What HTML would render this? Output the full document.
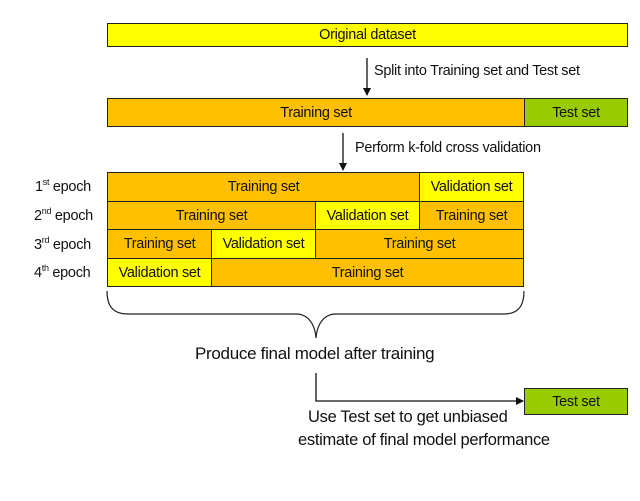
<!DOCTYPE html>
<html><head><style>
body{margin:0;width:640px;height:501px;background:#fff;position:relative;overflow:hidden;font-family:"Liberation Sans",sans-serif;}
.b{position:absolute;box-sizing:border-box;border:1px solid #222;display:flex;align-items:center;justify-content:center;font-size:14.5px;color:#111;letter-spacing:-0.3px}
.o{background:#FFC000}.y{background:#FFFF00}.g{background:#99CC00}
.t{position:absolute;font-size:14.5px;color:#111;white-space:nowrap;letter-spacing:-0.3px}
sup{font-size:9px}
</style></head><body>
<div class="b y" style="left:107px;top:23px;width:521px;height:24px">Original dataset</div>
<div class="b o" style="left:107px;top:98px;width:418px;height:29px">Training set</div>
<div class="b g" style="left:524px;top:98px;width:104px;height:29px">Test set</div>

<div class="b o" style="left:107px;top:172px;width:313px;height:30px">Training set</div>
<div class="b y" style="left:419px;top:172px;width:105px;height:30px">Validation set</div>
<div class="b o" style="left:107px;top:201px;width:209px;height:29px">Training set</div>
<div class="b y" style="left:315px;top:201px;width:105px;height:29px">Validation set</div>
<div class="b o" style="left:419px;top:201px;width:105px;height:29px">Training set</div>
<div class="b o" style="left:107px;top:229px;width:105px;height:30px">Training set</div>
<div class="b y" style="left:211px;top:229px;width:105px;height:30px">Validation set</div>
<div class="b o" style="left:315px;top:229px;width:209px;height:30px">Training set</div>
<div class="b y" style="left:107px;top:258px;width:105px;height:29px">Validation set</div>
<div class="b o" style="left:211px;top:258px;width:313px;height:29px">Training set</div>

<div class="t" style="left:35px;top:177px">1<sup>st</sup> epoch</div>
<div class="t" style="left:34px;top:206px">2<sup>nd</sup> epoch</div>
<div class="t" style="left:34px;top:235px">3<sup>rd</sup> epoch</div>
<div class="t" style="left:34px;top:263px">4<sup>th</sup> epoch</div>

<div class="t" style="left:374px;top:63px">Split into Training set and Test set</div>
<div class="t" style="left:355px;top:140px">Perform k-fold cross validation</div>
<div class="t" style="left:195px;top:344px;font-size:17px">Produce final model after training</div>
<div class="t" style="left:308px;top:408px;font-size:16.5px">Use Test set to get unbiased</div>
<div class="t" style="left:298px;top:431px;font-size:16.5px">estimate of final model performance</div>
<div class="b g" style="left:524px;top:388px;width:104px;height:27px">Test set</div>

<svg width="640" height="501" style="position:absolute;left:0;top:0">
<defs><marker id="a" markerWidth="8" markerHeight="8" refX="7" refY="4" orient="auto" markerUnits="userSpaceOnUse"><path d="M0,0 L8,4 L0,8z" fill="#111"/></marker></defs>
<line x1="367" y1="58" x2="367" y2="95" stroke="#111" stroke-width="1.3" marker-end="url(#a)"/>
<line x1="343" y1="133" x2="343" y2="170" stroke="#111" stroke-width="1.3" marker-end="url(#a)"/>
<path d="M107,291 C107,305 112,314 128,314 L296,314 C308,314 315,324 316,338 C317,324 324,314 336,314 L504,314 C519,314 524,305 524,291" fill="none" stroke="#222" stroke-width="1.2"/>
<path d="M316,373 L316,401 L523,401" fill="none" stroke="#111" stroke-width="1.3" marker-end="url(#a)"/>
</svg>
</body></html>
